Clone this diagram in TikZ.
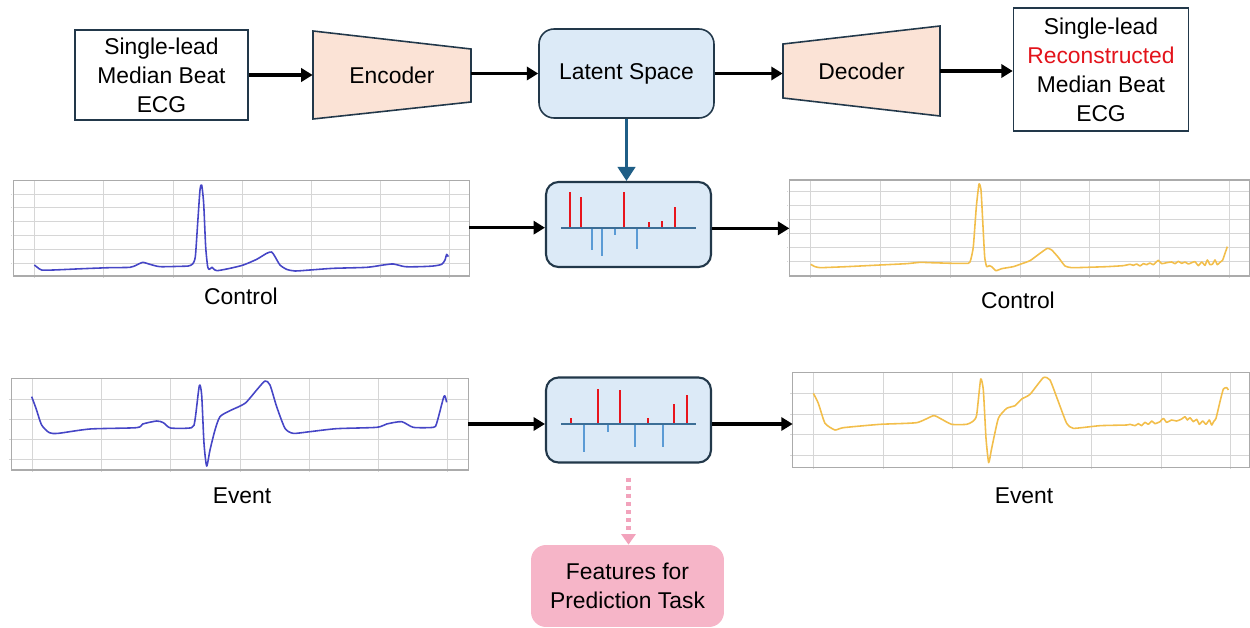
\documentclass[tikz,border=0pt]{standalone}
\usepackage{fontspec}
\setmainfont{Liberation Sans}
\usetikzlibrary{calc}
\usetikzlibrary{arrows.meta}

\definecolor{edgeblue}{HTML}{22384A}
\definecolor{peach}{HTML}{FBE3D6}
\definecolor{latentblue}{HTML}{DCEAF7}
\definecolor{arrowteal}{HTML}{1F5E86}
\definecolor{featpink}{HTML}{F6B5C8}
\definecolor{dotpink}{HTML}{F2A3BC}
\definecolor{recred}{HTML}{E3131B}
\definecolor{barred}{HTML}{E8141C}
\definecolor{barblue}{HTML}{5B9BD5}
\definecolor{axisblue}{HTML}{3C6E96}
\definecolor{ecgblue}{HTML}{4646C6}
\definecolor{ecgyellow}{HTML}{F2BE4B}
\definecolor{gridgray}{HTML}{D6D6D6}
\definecolor{framegray}{HTML}{ABABAB}

\tikzset{
    lbl/.style={font=\fontsize{13}{16.5}\selectfont, align=center, inner sep=0pt},
    sigbox/.style={lbl, draw=edgeblue, line width=0.9pt, fill=white},
    latentbox/.style={lbl, draw=edgeblue, line width=0.9pt, fill=latentblue, rounded corners=0.3cm},
    trapfill/.style={draw=edgeblue, line width=0.9pt, fill=peach},
    codebox/.style={draw=edgeblue, line width=1.2pt, fill=latentblue, rounded corners=0.25cm,
        minimum width=3.3cm, minimum height=1.7cm, inner sep=0pt},
    featbox/.style={lbl, fill=featpink, rounded corners=0.3cm},
    flow/.style={line width=2pt, -{Triangle[length=6.5pt,width=7.5pt]}},
    latentflow/.style={arrowteal, line width=1.5pt, -{Triangle[length=8pt,width=10pt]}},
    predflow/.style={dotpink, line width=3pt, dash pattern=on 2.3pt off 2.3pt, -{Triangle[length=6pt,width=8pt]}},
    gridline/.style={gridgray, line width=0.5pt},
    plotframe/.style={framegray, line width=0.7pt},
    ecgin/.style={ecgblue, line width=0.9pt, line join=round},
    ecgout/.style={ecgyellow, line width=0.9pt, line join=round},
    upbar/.style={barred, line width=1.2pt},
    downbar/.style={barblue, line width=1.2pt},
    codeaxis/.style={axisblue, line width=1.2pt},
}

\begin{document}
\begin{tikzpicture}[x=0.02cm, y=-0.02cm]
\useasboundingbox (0,0) rectangle (1250,628);

\coordinate (enc-nw) at (313,31);
\coordinate (enc-ne) at (471,49);
\coordinate (enc-se) at (471,102);
\coordinate (enc-sw) at (313,119);
\coordinate (dec-nw) at (783,44);
\coordinate (dec-ne) at (940,26);
\coordinate (dec-se) at (940,116);
\coordinate (dec-sw) at (783,98);

% grid of one ecg panel: x0, y0, x1, y1, vertical lines, horizontal lines
\newcommand{\ecggrid}[6]{
    \foreach \gx in {#5} \draw[gridline] (\gx,#2) -- (\gx,#4+5);
    \foreach \gy in {#6} {
        \draw[gridline] (#1,\gy) -- (#3,\gy);
        \draw[gridline] (#1-7,\gy) -- (#1-3,\gy);
    }
    \draw[plotframe] (#1,#2) rectangle (#3,#4);
}

% latent code: axis height, bars up, bars down
\newcommand{\codebars}[3]{
    \foreach \bx/\by in {#2} \draw[upbar] (\bx,#1) -- (\bx,\by);
    \foreach \bx/\by in {#3} \draw[downbar] (\bx,#1) -- (\bx,\by);
    \draw[codeaxis] (561,#1) -- (696,#1);
}

%% top row
\node[sigbox, minimum width=3.46cm, minimum height=1.8cm] (in) at (161.5,75) {Single-lead\\Median Beat\\ECG};
\draw[trapfill] (enc-nw) -- (enc-ne) -- (enc-se) -- (enc-sw) -- cycle;
\node[lbl, minimum width=3.16cm, minimum height=1.76cm] (enc) at (392,75) {Encoder};
\node[latentbox, minimum width=3.5cm, minimum height=1.78cm] (latent) at (626.5,73.5) {Latent Space};
\draw[trapfill] (dec-nw) -- (dec-ne) -- (dec-se) -- (dec-sw) -- cycle;
\node[lbl, minimum width=3.14cm, minimum height=1.8cm] (dec) at (861.5,71) {Decoder};
\node[sigbox, minimum width=3.5cm, minimum height=2.46cm] (out) at (1101,69.5)
    {Single-lead\\\textcolor{recred}{Reconstructed}\\Median Beat\\ECG};

\draw[flow] (in.east) -- (in.east -| enc.west);
\draw[flow] (enc.east |- latent.west) -- (latent.west);
\draw[flow] (latent.east) -- (latent.east -| dec.west);
\draw[flow] (dec.east) -- (dec.east -| out.west);

%% latent codes
\node[codebox] (code1) at (628.5,224.5) {};
\node[codebox] (code2) at (628.5,420) {};
\codebars{228}{570/191.7,580.7/197.3,624/192.3,649/221.7,662/220.7,675/207.3}
    {591.7/250,602.3/256,614.7/235,636.7/249.3}
\codebars{424.3}{570.7/417.7,597.7/389,620/390,648.3/418.3,674.3/404.3,686.7/395}
    {584/452.3,607.7/431.7,635.3/446.7,663.3/447.3}

\draw[latentflow] (latent.south) -- (latent.south |- code1.north);

%% control, input
\begin{scope}[shift={(0,170)}, scale=1/3]
    \ecggrid{40}{32}{1408}{318}{103,311,519,727,934,1142,1349}{72,113,155,197,239,280}
    \draw[ecgin] plot[smooth, tension=0.4] coordinates {
        (103,285) (112,292) (125,300) (160,300) (250,296) (330,293) (390,292)
        (410,285) (428,277) (450,283) (480,290) (540,289) (565,288) (578,282)
        (586,260) (593,160) (600,60) (605,45) (611,100) (617,230) (623,290)
        (628,298) (636,292) (642,298) (652,302) (690,295) (730,285) (770,268)
        (800,250) (815,246) (825,260) (840,285) (860,298) (885,303) (930,300)
        (1000,295) (1100,292) (1150,285) (1180,282) (1215,290) (1260,290)
        (1300,288) (1325,283) (1335,270) (1340,253) (1345,260)};
    \coordinate (ctlin) at (1408,173);
\end{scope}
\node[lbl] (ctlin-lab) at (241,296) {Control};

%% control, reconstructed
\begin{scope}[shift={(780,170)}, scale=1/3]
    \ecggrid{28}{30}{1408}{318}{92,300,510,720,928,1138,1347}{65,107,148,190,232,273}
    \draw[ecgout] plot[smooth, tension=0.3] coordinates {
        (92,283) (105,290) (120,293) (150,292) (200,290) (300,285) (380,281)
        (420,277) (450,278) (520,280) (565,280) (572,270) (580,230) (589,110)
        (597,42) (603,60) (608,150) (614,260) (620,290) (628,287) (635,290)
        (648,302) (665,296) (700,290) (720,283) (750,272) (780,250) (802,235)
        (815,240) (835,262) (855,288) (875,293) (920,292) (980,290) (1030,287)
        (1050,283) (1060,286) (1070,282) (1080,288) (1090,281) (1100,284)
        (1110,279) (1120,284) (1135,271) (1145,281) (1160,278) (1175,276)
        (1185,281) (1195,274) (1205,280) (1215,276) (1225,282) (1235,278)
        (1245,275) (1255,287) (1265,276) (1275,286) (1282,270) (1290,284)
        (1298,282) (1305,270) (1312,284) (1320,277) (1328,270) (1335,250) (1342,230)};
    \coordinate (ctlout) at (28,175);
\end{scope}
\node[lbl] (ctlout-lab) at (1018,300) {Control};

%% event, input
\begin{scope}[shift={(0,370)}, scale=1/3]
    \ecggrid{35}{25}{1405}{300}{96,304,512,720,928,1136,1343}{88,148,208,268}
    \draw[ecgin] plot[smooth, tension=0.4] coordinates {
        (95,80) (108,115) (125,165) (148,188) (175,190) (270,177) (410,173)
        (428,162) (470,153) (490,158) (512,174) (575,173) (585,150) (598,47)
        (605,75) (612,220) (620,288) (630,240) (645,180) (660,140) (690,122)
        (735,100) (770,60) (795,33) (810,45) (830,110) (855,175) (880,190)
        (930,185) (1010,176) (1130,172) (1160,162) (1205,155) (1240,172)
        (1300,172) (1310,160) (1330,85) (1335,78) (1340,97)};
    \coordinate (evtin) at (1405,162);
\end{scope}
\node[lbl] (evtin-lab) at (242,496) {Event};

%% event, reconstructed
\begin{scope}[shift={(780,365)}, scale=1/3]
    \ecggrid{38}{22}{1408}{308}{100,310,518,727,935,1143,1350}{85,147,208,270}
    \draw[ecgout] plot[smooth, tension=0.3] coordinates {
        (100,85) (115,115) (135,175) (165,195) (190,188) (300,178) (410,173)
        (460,152) (480,160) (515,178) (560,178) (580,168) (590,150) (602,42)
        (610,75) (618,220) (626,293) (635,250) (655,160) (680,130) (705,122)
        (725,102) (750,88) (790,38) (810,45) (835,110) (860,175) (880,190)
        (960,182) (1040,180) (1050,178) (1065,182) (1075,176) (1085,182)
        (1095,172) (1105,178) (1115,168) (1125,176) (1140,170) (1150,160)
        (1160,172) (1175,165) (1190,168) (1205,162) (1215,155) (1222,165)
        (1230,158) (1240,170) (1250,163) (1258,178) (1268,168) (1278,178)
        (1288,165) (1295,180) (1302,168) (1308,160) (1320,110) (1330,72)
        (1340,68) (1345,75)};
    \coordinate (evtout) at (38,177);
\end{scope}
\node[lbl] (evtout-lab) at (1024,496) {Event};

\draw[flow] (ctlin) -- (ctlin -| code1.west);
\draw[flow] (code1.east |- ctlout) -- (ctlout);
\draw[flow] (evtin) -- (evtin -| code2.west);
\draw[flow] (code2.east |- evtout) -- (evtout);

%% features
\node[featbox, minimum width=3.86cm, minimum height=1.64cm] (feat) at (627.5,586) {Features for\\Prediction Task};
\draw[predflow] (code2.south) ++(0,14) -- (code2.south |- feat.north);

\end{tikzpicture}
\end{document}
